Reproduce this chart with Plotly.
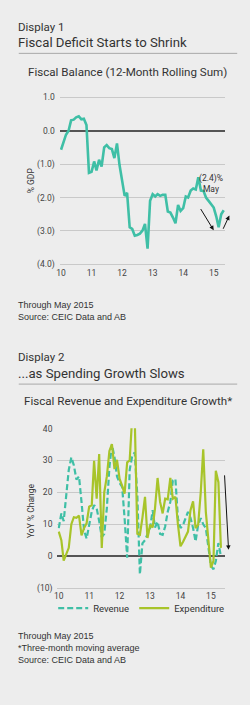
import plotly.graph_objects as go
import pandas as pd

W, H = 250, 705

# ---------------- data ----------------
months = pd.date_range("2010-01-01", "2015-05-01", freq="MS")

balance = [
    -0.57, -0.35, -0.12, 0.00, 0.31, 0.33, 0.40, 0.43, 0.34, 0.36, 0.17, -1.26,
    -1.23, -0.92, -1.19, -0.87, -1.07, -0.50, -0.43, -0.52, -0.55, -0.82, -0.38, -1.02,
    -1.55, -1.95, -1.86, -2.89, -2.94, -3.14, -3.12, -3.08, -2.99, -2.79, -3.53, -2.10,
    -1.90, -1.97, -1.90, -1.95, -1.92, -1.92, -2.42, -2.45, -2.60, -2.77, -2.22, -2.40,
    -2.32, -1.97, -2.00, -1.79, -1.73, -1.76, -1.39, -1.79, -1.80, -2.00, -2.10, -2.20,
    -2.30, -2.57, -2.89, -2.50, -2.38,
]

revenue = [
    8.8, 13.4, 11.0, 19.0, 27.0, 31.0, 28.5, 24.0, 25.0, 17.0, 8.0, 5.5,
    10.3, 14.0, 16.0, 15.0, 11.0, 6.0, 7.0, 15.0, 28.0, 35.0, 31.0, 25.0,
    23.0, 21.7, 11.9, -0.5, 27.0, 31.5, 32.5, 19.0, -5.7, 4.0, 5.0, 7.0,
    8.8, 14.4, 9.0, 10.8, 7.0, 6.7, 9.3, 13.9, 17.0, 23.7, 24.2, 11.9,
    8.8, 9.8, 12.0, 13.9, 12.0, 8.8, 4.6, 9.8, 11.9, 10.0, 8.8, 2.6,
    -3.0, -4.1, -1.5, 4.1, 0.0,
]

expenditure = [
    7.7, 5.0, -1.4, 0.8, 2.6, 10.0, 12.2, 12.0, 12.7, 6.5, 8.8, 10.3,
    15.5, 16.0, 29.9, 18.0, 32.0, 2.6, 20.0, 25.0, 33.0, 35.1, 27.3, 30.2,
    24.2, 22.0, 19.6, 29.4, 30.0, 44.0, 43.0, 7.0, 6.7, 12.0, 18.6, 5.7,
    9.8, 9.0, 15.0, 24.5, 17.0, 13.4, 18.0, 17.8, 24.5, 18.0, 18.6, 10.0,
    3.1, 4.5, 6.0, 7.7, 14.4, 17.2, 8.8, 9.8, 20.0, 33.5, 13.9, 4.6,
    -3.6, -1.5, 26.8, 23.2, 2.6,
]

year_ticks = ["2010-01-01", "2011-01-01", "2012-01-01", "2013-01-01", "2014-01-01", "2015-01-01"]
year_labels = ["10", "11", "12", "13", "14", "15"]
y1_vals = [1, 0, -1, -2, -3, -4]
y1_text = ["1.0", "0.0", "(1.0)", "(2.0)", "(3.0)", "(4.0)"]
y2_vals = [40, 30, 20, 10, 0, -10]
y2_text = ["40", "30", "20", "10", "0", "(10)"]

# ---------------- style ----------------
BG = "#EDEDED"
TEAL = "#3FBFA6"
GREEN = "#A8C42A"
TXT = "#333333"
GRID = "#C9C9C9"
TITLE_FONT = "Roboto"
NOTE_FONT = "Liberation Sans"


def fx(px):
    return px / W


def fy(py):
    return 1 - py / H


fig = go.Figure()

fig.add_trace(go.Scatter(x=months, y=balance, mode="lines", line=dict(color=TEAL, width=2.6),
                         showlegend=False, xaxis="x", yaxis="y"))
fig.add_trace(go.Scatter(x=months, y=revenue, mode="lines", name="Revenue",
                         line=dict(color=TEAL, width=2.2, dash="6px,3px"), legendwidth=36,
                         xaxis="x2", yaxis="y2"))
fig.add_trace(go.Scatter(x=months, y=expenditure, mode="lines", name="Expenditure",
                         line=dict(color=GREEN, width=2.2), legendwidth=60,
                         xaxis="x2", yaxis="y2"))

tickfont = dict(family=TITLE_FONT, size=8.5, color="#444444")

fig.update_layout(
    width=W, height=H,
    margin=dict(l=0, r=0, t=0, b=0),
    paper_bgcolor=BG, plot_bgcolor=BG,
    xaxis=dict(domain=[fx(56.7), fx(225)], range=["2009-12-17", "2015-05-21"],
               tickvals=year_ticks, ticktext=year_labels, showgrid=False, zeroline=False,
               showline=False, tickfont=tickfont, ticks="", anchor="y"),
    yaxis=dict(domain=[fy(264.4), fy(91.8)], range=[-4.05, 1.05],
               tickvals=y1_vals, ticktext=y1_text, showgrid=True, gridcolor=GRID, gridwidth=1,
               zeroline=True, zerolinecolor="#555555", zerolinewidth=1.5,
               showline=False, tickfont=tickfont, ticks="", anchor="x", ticklabelstandoff=4),
    xaxis2=dict(domain=[fx(54.3), fx(225)], range=["2009-12-16", "2015-06-24"],
                tickvals=year_ticks, ticktext=year_labels, showgrid=False, zeroline=False,
                showline=False, tickfont=tickfont, ticks="", anchor="y2"),
    yaxis2=dict(domain=[fy(592.2), fy(428.7)], range=[-10.5, 40.1],
                tickvals=y2_vals, ticktext=y2_text, showgrid=True, gridcolor=GRID, gridwidth=1,
                zeroline=True, zerolinecolor="#555555", zerolinewidth=1.5,
                showline=False, tickfont=tickfont, ticks="", anchor="x2", ticklabelstandoff=4),
    legend=dict(orientation="h", x=fx(50), y=fy(611), xanchor="left", yanchor="middle",
                bgcolor="rgba(0,0,0,0)", font=dict(family=TITLE_FONT, size=9.5, color=TXT),
                tracegroupgap=0, itemwidth=30),
)

ann = []


def text(px, py, s, size, family=TITLE_FONT, xanchor="left", color=TXT, angle=0):
    ann.append(dict(x=fx(px), y=fy(py), xref="paper", yref="paper", text=s, showarrow=False,
                    xanchor=xanchor, yanchor="middle", textangle=angle,
                    font=dict(family=family, size=size, color=color)))


# Display 1
text(12, 22, "Display 1", 11.5)
text(12, 37.5, "Fiscal Deficit Starts to Shrink", 13.2)
text(126, 68, "Fiscal Balance (12-Month Rolling Sum)", 11.6, xanchor="center")
text(27, 178, "% GDP", 8.5, xanchor="center", angle=-90)
text(12, 304, "Through May 2015", 9, family=NOTE_FONT)
text(12, 316, "Source: CEIC Data and AB", 9, family=NOTE_FONT)

# Display 2
text(12, 357, "Display 2", 11.5)
text(12, 373, "...as Spending Growth Slows", 13.2)
text(126, 401, "Fiscal Revenue and Expenditure Growth*", 11.6, xanchor="center")
text(28, 512, "YoY % Change", 8.5, xanchor="center", angle=-90)
text(12, 639, "Through May 2015", 9, family=NOTE_FONT)
text(12, 651, "*Three-month moving average", 9, family=NOTE_FONT)
text(12, 663, "Source: CEIC Data and AB", 9, family=NOTE_FONT)

# chart 1 annotations
ann.append(dict(x="2014-12-01", y=-1.58, xref="x", yref="y", text="(2.4)%<br>May",
                showarrow=False, font=dict(family=TITLE_FONT, size=8.5, color=TXT),
                xanchor="center", yanchor="middle"))
ann.append(dict(x="2015-01-01", y=-2.98, ax="2014-07-19", ay=-2.30, xref="x", yref="y",
                axref="x", ayref="y", text="", showarrow=True, arrowhead=2, arrowsize=0.9,
                arrowwidth=1, arrowcolor="#111111"))
ann.append(dict(x="2015-07-07", y=-2.54, ax="2015-04-16", ay=-2.98, xref="x", yref="y",
                axref="x", ayref="y", text="", showarrow=True, arrowhead=2, arrowsize=0.9,
                arrowwidth=1, arrowcolor="#111111"))
# chart 2 arrow
ann.append(dict(x="2015-08-01", y=2.0, ax="2015-06-13", ay=25.8, xref="x2", yref="y2",
                axref="x2", ayref="y2", text="", showarrow=True, arrowhead=2, arrowsize=0.9,
                arrowwidth=1, arrowcolor="#111111"))

fig.update_layout(annotations=ann)

# horizontal rules under headings
for py in (49, 384):
    fig.add_shape(type="line", xref="paper", yref="paper", x0=fx(15), x1=fx(237),
                  y0=fy(py), y1=fy(py), line=dict(color="#A8A8A8", width=1))

fig.write_html("out.html")
